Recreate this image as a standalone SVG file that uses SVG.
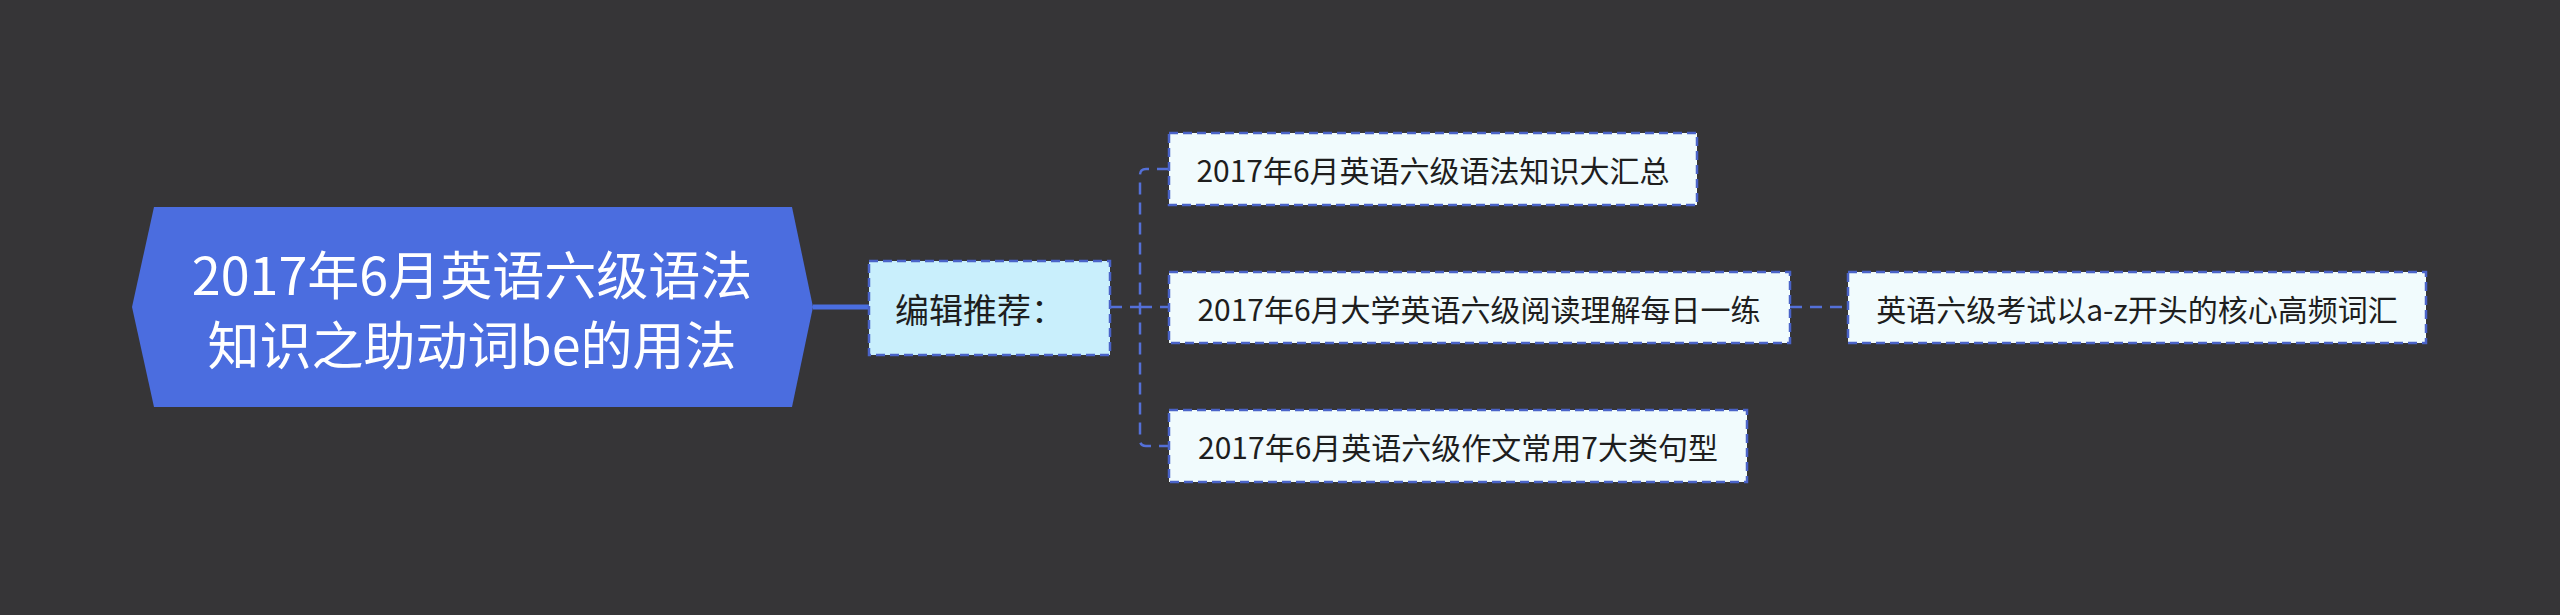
<svg xmlns="http://www.w3.org/2000/svg" width="2560" height="615" viewBox="0 0 2560 615">
<style>
text{font-family:"Noto Sans CJK SC","Noto Sans",sans-serif;dominant-baseline:central;text-anchor:middle}
.c{fill:none;stroke:#5470d8;stroke-width:2.5;stroke-dasharray:12 8}
.b{fill:#f1fbfd;stroke:#4a63c8;stroke-width:2.5;stroke-dasharray:9 5}
.t{font-size:30px;fill:#1e1e1e}
</style>
<rect width="2560" height="615" fill="#363537"/>
<g id="connectors">
<line x1="813" y1="307" x2="869" y2="307" stroke="#4a6ee0" stroke-width="5"/>
<path class="c" d="M1110 307H1140M1169 169H1146Q1140 169 1140 175V440Q1140 446 1146 446H1169M1140 307H1169M1790 307H1848"/>
</g>
<g id="root">
<polygon points="154,207 792,207 813,307 792,407 154,407 132,307" fill="#4b6ddf"/>
<text x="472" y="272" font-size="52" fill="#fff">2017年6月英语六级语法</text>
<text x="472" y="342" font-size="52" fill="#fff">知识之助动词be的用法</text>
</g>
<g id="n1">
<rect x="869" y="261" width="241" height="94" fill="#c9effc" stroke="#4a63c8" stroke-width="2.5" stroke-dasharray="9 5"/>
<text x="980" y="308" font-size="34" fill="#1e1e1e">编辑推荐：</text>
</g>
<g id="n2"><rect class="b" x="1169" y="133" width="528" height="72"/><text class="t" x="1433" y="169">2017年6月英语六级语法知识大汇总</text></g>
<g id="n3"><rect class="b" x="1169" y="272" width="621" height="71"/><text class="t" x="1479" y="307.5">2017年6月大学英语六级阅读理解每日一练</text></g>
<g id="n4"><rect class="b" x="1169" y="410" width="578" height="72"/><text class="t" x="1458" y="446">2017年6月英语六级作文常用7大类句型</text></g>
<g id="n5"><rect class="b" x="1848" y="272" width="578" height="71"/><text class="t" x="2137" y="307.5">英语六级考试以a-z开头的核心高频词汇</text></g>
</svg>
